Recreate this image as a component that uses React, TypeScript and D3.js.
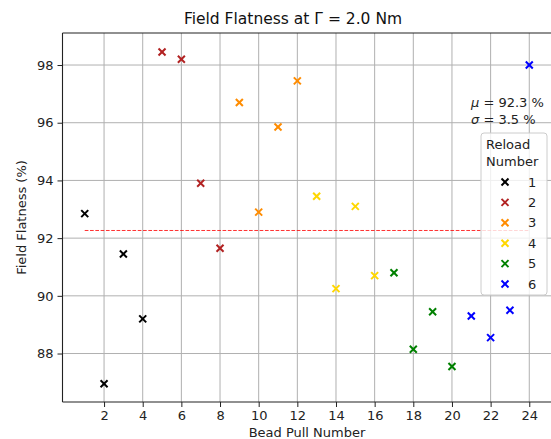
import React, { useRef, useEffect } from 'react'
import * as d3 from 'd3'

const pulls = [1, 2, 3, 4, 5, 6, 7, 8, 9, 10, 11, 12, 13, 14, 15, 16, 17, 18, 19, 20, 21, 22, 23, 24]
const flatness = [92.85, 86.95, 91.45, 89.2, 98.45, 98.2, 93.9, 91.65, 96.7, 92.9, 95.85, 97.45,
  93.45, 90.25, 93.1, 90.7, 90.8, 88.15, 89.45, 87.55, 89.3, 88.55, 89.5, 98.0]
const reloads = [1, 1, 1, 1, 2, 2, 2, 2, 3, 3, 3, 3, 4, 4, 4, 4, 5, 5, 5, 5, 6, 6, 6, 6]
const reloadLabels = ['1', '2', '3', '4', '5', '6']
const reloadColors = ['#000000', '#b22222', '#ff8c00', '#ffd700', '#008000', '#0000ff']
const xTicks = [2, 4, 6, 8, 10, 12, 14, 16, 18, 20, 22, 24]
const yTicks = [88, 90, 92, 94, 96, 98]

const W = 551
const H = 439
const FONT = 'DejaVu Sans, sans-serif'

export default function App() {
  const ref = useRef<SVGSVGElement>(null)

  useEffect(() => {
    const svg = d3.select(ref.current)
    svg.selectAll('*').remove()

    const left = 62.5, right = 551.5, top = 33, bottom = 402
    const x = d3.scaleLinear().domain([-0.15, 25.15]).range([left, right])
    const y = d3.scaleLinear().domain([86.32, 99.11]).range([bottom, top])

    const n = flatness.length
    const mean = d3.mean(flatness) as number
    // population std, like numpy's default
    const sd = (d3.deviation(flatness) as number) * Math.sqrt((n - 1) / n)

    // grid
    const grid = svg.append('g')
    grid.selectAll('.gx').data(xTicks).enter().append('line')
      .attr('x1', d => x(d)).attr('x2', d => x(d))
      .attr('y1', top).attr('y2', bottom)
      .attr('stroke', '#b0b0b0').attr('stroke-width', 1)
    grid.selectAll('.gy').data(yTicks).enter().append('line')
      .attr('x1', left).attr('x2', right)
      .attr('y1', d => y(d)).attr('y2', d => y(d))
      .attr('stroke', '#b0b0b0').attr('stroke-width', 1)

    // mean line
    svg.append('line')
      .attr('x1', x(1)).attr('x2', x(24))
      .attr('y1', y(mean)).attr('y2', y(mean))
      .attr('stroke', 'red').attr('stroke-width', 1)
      .attr('stroke-dasharray', '3.7,1.6')
      .attr('opacity', 0.8)

    // points
    const s = 3.5
    const pts = svg.append('g')
    pulls.forEach((p, i) => {
      const cx = x(p), cy = y(flatness[i])
      const c = reloadColors[reloads[i] - 1]
      const g = pts.append('g').attr('stroke', c).attr('stroke-width', 2)
      g.append('line').attr('x1', cx - s).attr('y1', cy - s).attr('x2', cx + s).attr('y2', cy + s)
      g.append('line').attr('x1', cx - s).attr('y1', cy + s).attr('x2', cx + s).attr('y2', cy - s)
    })

    // axes
    const xAxis = svg.append('g').attr('transform', `translate(0,${bottom})`)
      .call(d3.axisBottom(x).tickValues(xTicks).tickSize(5).tickPadding(4))
    const yAxis = svg.append('g').attr('transform', `translate(${left},0)`)
      .call(d3.axisLeft(y).tickValues(yTicks).tickSize(5).tickPadding(4))
    ;[xAxis, yAxis].forEach(a => {
      a.select('.domain').remove()
      a.selectAll('text').attr('font-family', FONT).attr('font-size', 13).attr('fill', '#222')
      a.selectAll('line').attr('stroke', '#222')
    })

    // spines
    svg.append('line').attr('x1', left).attr('x2', left).attr('y1', top).attr('y2', bottom)
      .attr('stroke', '#222').attr('stroke-width', 1.1)
    svg.append('line').attr('x1', left).attr('x2', right).attr('y1', bottom).attr('y2', bottom)
      .attr('stroke', '#222').attr('stroke-width', 1.1)
    svg.append('line').attr('x1', left).attr('x2', right).attr('y1', top).attr('y2', top)
      .attr('stroke', '#222').attr('stroke-width', 1.1)

    // labels
    svg.append('text').attr('x', 293).attr('y', 24).attr('text-anchor', 'middle')
      .attr('font-family', FONT).attr('font-size', 15.5).attr('fill', '#111')
      .text('Field Flatness at Γ = 2.0 Nm')
    svg.append('text').attr('x', 307).attr('y', 437).attr('text-anchor', 'middle')
      .attr('font-family', FONT).attr('font-size', 13).attr('fill', '#222')
      .text('Bead Pull Number')
    svg.append('text').attr('transform', `translate(26,${(top + bottom) / 2}) rotate(-90)`)
      .attr('text-anchor', 'middle')
      .attr('font-family', FONT).attr('font-size', 13).attr('fill', '#222')
      .text('Field Flatness (%)')

    // stats
    const st = svg.append('g').attr('font-family', FONT).attr('font-size', 13).attr('fill', '#222')
    const t1 = st.append('text').attr('x', 471).attr('y', 107)
    t1.append('tspan').attr('font-style', 'italic').text('μ')
    t1.append('tspan').text(` = ${mean.toFixed(1)} %`)
    const t2 = st.append('text').attr('x', 471).attr('y', 124)
    t2.append('tspan').attr('font-style', 'italic').text('σ')
    t2.append('tspan').text(` = ${sd.toFixed(1)} %`)

    // legend
    const lg = svg.append('g')
    lg.append('rect').attr('x', 481).attr('y', 133).attr('width', 66).attr('height', 162)
      .attr('rx', 3).attr('fill', 'white').attr('fill-opacity', 0.8)
      .attr('stroke', '#cccccc').attr('stroke-width', 1)
    lg.append('text').attr('x', 486).attr('y', 149).attr('font-family', FONT).attr('font-size', 13)
      .attr('fill', '#222').text('Reload')
    lg.append('text').attr('x', 486).attr('y', 166).attr('font-family', FONT).attr('font-size', 13)
      .attr('fill', '#222').text('Number')
    reloadLabels.forEach((lab, i) => {
      const cy = 182 + i * 20.4
      const cx = 505
      const g = lg.append('g').attr('stroke', reloadColors[i]).attr('stroke-width', 2)
      g.append('line').attr('x1', cx - s).attr('y1', cy - s).attr('x2', cx + s).attr('y2', cy + s)
      g.append('line').attr('x1', cx - s).attr('y1', cy + s).attr('x2', cx + s).attr('y2', cy - s)
      lg.append('text').attr('x', 528).attr('y', cy + 4.5).attr('font-family', FONT)
        .attr('font-size', 13).attr('fill', '#222').text(lab)
    })
  }, [])

  return (
    <svg ref={ref} width={W} height={H} style={{ position: 'absolute', left: 0, top: 0, background: 'white' }} />
  )
}
